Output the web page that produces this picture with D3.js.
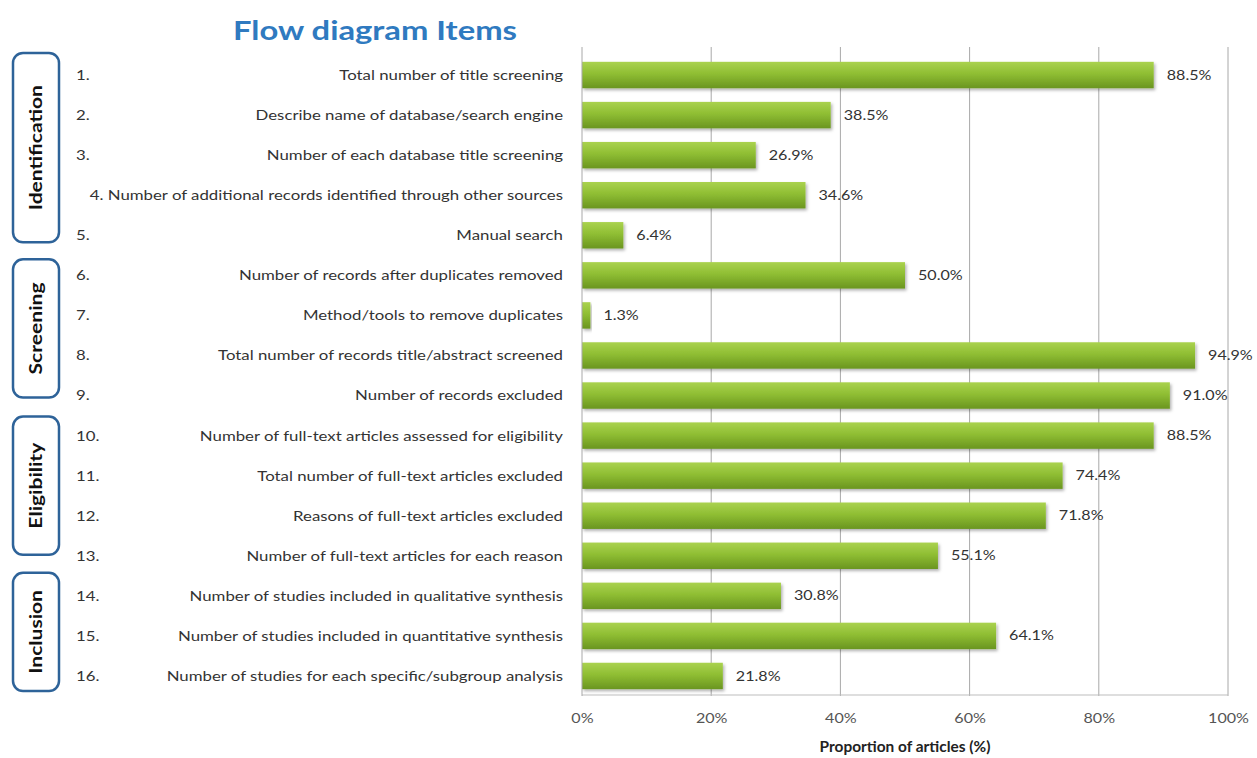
<!DOCTYPE html>
<html>
<head>
<meta charset="utf-8">
<script src="https://cdn.jsdelivr.net/npm/d3@7/dist/d3.min.js"></script>
<style>
  html, body { margin: 0; padding: 0; background: #ffffff; }
  svg { display: block; }
</style>
</head>
<body>
<svg id="chart" width="1257" height="758"></svg>
<script>
// PRISMA flow diagram items and the share of articles reporting each one
const itemNumbers = ["1.", "2.", "3.", "4.", "5.", "6.", "7.", "8.", "9.", "10.", "11.", "12.", "13.", "14.", "15.", "16."];
const itemLabels = [
  "Total number of title screening",
  "Describe name of database/search engine",
  "Number of each database title screening",
  "Number of additional records identified through other sources",
  "Manual search",
  "Number of records after duplicates removed",
  "Method/tools to remove duplicates",
  "Total number of records title/abstract screened",
  "Number of records excluded",
  "Number of full-text articles assessed for eligibility",
  "Total number of full-text articles excluded",
  "Reasons of full-text articles excluded",
  "Number of full-text articles for each reason",
  "Number of studies included in qualitative synthesis",
  "Number of studies included in quantitative synthesis",
  "Number of studies for each specific/subgroup analysis"
];
const proportions = [88.5, 38.5, 26.9, 34.6, 6.4, 50.0, 1.3, 94.9, 91.0, 88.5, 74.4, 71.8, 55.1, 30.8, 64.1, 21.8];
const xTicks = [0, 20, 40, 60, 80, 100];

// Stage groups: name, first item index, last item index
const stageNames = ["Identification", "Screening", "Eligibility", "Inclusion"];
const stageFirst = [0, 5, 9, 13];
const stageLast = [4, 8, 12, 15];

const svg = d3.select("#chart");
const font = "Lato, 'Open Sans', sans-serif";
const stretch = 1.24;   // horizontally widened lettering

const plot = { left: 582, right: 1228, top: 55, bottom: 696 };

const x = d3.scaleLinear().domain([0, 100]).range([plot.left, plot.right]);
const y = d3.scaleBand().domain(d3.range(itemLabels.length))
  .range([plot.top, plot.bottom]).paddingInner(0.34).paddingOuter(0.17);
const yc = i => y(i) + y.bandwidth() / 2;

// Places a text at (px, py) with its glyphs widened along the baseline
function place(sel, px, py, sx = stretch, rot = 0) {
  sel.attr("transform", (d, i) => {
    const X = typeof px === "function" ? px(d, i) : px;
    const Y = typeof py === "function" ? py(d, i) : py;
    return `translate(${X},${Y})` + (rot ? ` rotate(${rot})` : "") + ` scale(${sx},1)`;
  });
  return sel;
}

// Gradient and shadow for the bars
const defs = svg.append("defs");
const grad = defs.append("linearGradient").attr("id", "barGrad")
  .attr("x1", 0).attr("y1", 0).attr("x2", 0).attr("y2", 1);
grad.append("stop").attr("offset", "0%").attr("stop-color", "#aad24f");
grad.append("stop").attr("offset", "45%").attr("stop-color", "#8fbe33");
grad.append("stop").attr("offset", "100%").attr("stop-color", "#6a9520");
const shadow = defs.append("filter").attr("id", "barShadow")
  .attr("x", "-5%").attr("y", "-20%").attr("width", "115%").attr("height", "160%");
shadow.append("feDropShadow").attr("dx", 1.5).attr("dy", 2).attr("stdDeviation", 1.6)
  .attr("flood-color", "#000").attr("flood-opacity", 0.3);

// Title
place(svg.append("text"), 375, 40, 1.26)
  .attr("text-anchor", "middle")
  .attr("font-family", font).attr("font-weight", "bold")
  .attr("font-size", 26).attr("fill", "#2f7ac0")
  .text("Flow diagram Items");

// Vertical gridlines
svg.append("g").selectAll("line")
  .data(xTicks.filter(d => d > 0))
  .join("line")
  .attr("x1", d => x(d)).attr("x2", d => x(d))
  .attr("y1", plot.top - 8).attr("y2", plot.bottom)
  .attr("stroke", "#a8a8a8").attr("stroke-width", 1);

// Bottom border of the plot area
svg.append("line")
  .attr("x1", plot.left).attr("x2", plot.right)
  .attr("y1", plot.bottom - 1).attr("y2", plot.bottom - 1)
  .attr("stroke", "#bdbdbd").attr("stroke-width", 1);

// X axis tick labels
const xAxis = d3.axisBottom(x).tickValues(xTicks).tickFormat(d => d + "%").tickSize(0).tickPadding(0);
const gx = svg.append("g").attr("transform", `translate(0,${plot.bottom})`).call(xAxis);
gx.select(".domain").remove();
gx.selectAll("text")
  .attr("y", null).attr("dy", null)
  .attr("transform", `translate(0,27) scale(${stretch},1)`)
  .attr("font-family", font).attr("font-size", 13).attr("fill", "#555");

// X axis title
place(svg.append("text"), (plot.left + plot.right) / 2, 752, 1.03)
  .attr("text-anchor", "middle")
  .attr("font-family", font).attr("font-weight", "bold")
  .attr("font-size", 15).attr("fill", "#222")
  .text("Proportion of articles (%)");

// Bars
svg.append("g").selectAll("rect")
  .data(proportions)
  .join("rect")
  .attr("x", x(0))
  .attr("y", (d, i) => y(i))
  .attr("width", d => x(d) - x(0))
  .attr("height", y.bandwidth())
  .attr("fill", "url(#barGrad)")
  .attr("filter", "url(#barShadow)");

// Left axis line
svg.append("line")
  .attr("x1", plot.left).attr("x2", plot.left)
  .attr("y1", plot.top - 8).attr("y2", plot.bottom)
  .attr("stroke", "#a8a8a8").attr("stroke-width", 1);

// Value labels
place(svg.append("g").selectAll("text").data(proportions).join("text"),
      d => x(d) + 13, (d, i) => yc(i))
  .attr("dy", "0.35em")
  .attr("font-family", font).attr("font-size", 13).attr("fill", "#333")
  .text(d => d.toFixed(1) + "%");

// Category labels (right aligned); the long fourth label carries its own number
place(svg.append("g").selectAll("text").data(itemLabels).join("text"),
      563, (d, i) => yc(i), 1.2)
  .attr("dy", "0.35em")
  .attr("text-anchor", "end")
  .attr("font-family", font).attr("font-size", 14).attr("fill", "#333")
  .text((d, i) => i === 3 ? itemNumbers[i] + " " + d : d);

place(svg.append("g").selectAll("text").data(itemNumbers).join("text"),
      76, (d, i) => yc(i), 1.2)
  .attr("dy", "0.35em")
  .attr("font-family", font).attr("font-size", 14).attr("fill", "#333")
  .text((d, i) => i === 3 ? "" : d);

// Stage boxes with rotated names; top/bottom offsets around the first/last rows
const boxPad = [[-22, 7], [-16, 2], [-19, -1], [-23, 15]];
const boxTop = i => yc(stageFirst[i]) + boxPad[i][0];
const boxBottom = i => yc(stageLast[i]) + boxPad[i][1];
const stages = svg.append("g").selectAll("g")
  .data(stageNames)
  .join("g");
stages.append("rect")
  .attr("x", 13)
  .attr("y", (d, i) => boxTop(i))
  .attr("width", 46)
  .attr("height", (d, i) => boxBottom(i) - boxTop(i))
  .attr("rx", 10).attr("ry", 10)
  .attr("fill", "#fff").attr("stroke", "#2e6399").attr("stroke-width", 2.5);
place(stages.append("text"), 36, (d, i) => (boxTop(i) + boxBottom(i)) / 2, stretch, -90)
  .attr("text-anchor", "middle")
  .attr("dy", "0.35em")
  .attr("font-family", font).attr("font-weight", "bold")
  .attr("font-size", 17).attr("fill", "#111")
  .text(d => d);
</script>
</body>
</html>
